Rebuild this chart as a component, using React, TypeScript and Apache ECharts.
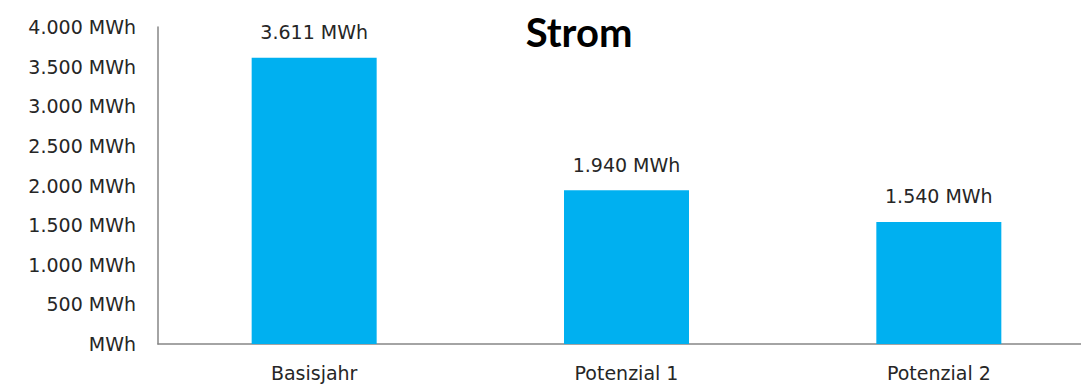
import React, { useEffect, useRef } from "react";
import * as echarts from "echarts";

const categories = ["Basisjahr", "Potenzial 1", "Potenzial 2"];
const values = [3611, 1940, 1540];
const yTicks = [0, 500, 1000, 1500, 2000, 2500, 3000, 3500, 4000];

const fmt = (v: number) => {
  if (v === 0) return "MWh";
  return v.toString().replace(/\B(?=(\d{3})+(?!\d))/g, ".") + " MWh";
};

export default function App() {
  const ref = useRef<HTMLDivElement>(null);
  useEffect(() => {
    if (!ref.current) return;
    const chart = echarts.init(ref.current, null, { renderer: "svg" });
    const font = "'DejaVu Sans', sans-serif";
    chart.setOption({
      animation: false,
      title: {
        text: "Strom",
        left: 574,
        top: 7,
        textAlign: "center",
        textStyle: { fontSize: 40, fontWeight: "bold", color: "#000", fontFamily: "Lato, sans-serif" },
      },
      grid: { left: 158, right: 0, top: 27, bottom: 41, containLabel: false },
      xAxis: {
        type: "category",
        data: categories,
        axisLine: { lineStyle: { color: "#868686", width: 1.5 } },
        axisTick: { show: false },
        axisLabel: { color: "#262626", fontSize: 19, margin: 19, fontFamily: font },
      },
      yAxis: {
        type: "value",
        min: yTicks[0],
        max: yTicks[yTicks.length - 1],
        interval: 500,
        axisLine: { show: true, lineStyle: { color: "#868686", width: 1.5 } },
        axisTick: { show: false },
        splitLine: { show: false },
        axisLabel: { color: "#262626", fontSize: 19, margin: 22, fontFamily: font, formatter: fmt },
      },
      series: [
        {
          type: "bar",
          data: values,
          barWidth: 125,
          itemStyle: { color: "#00B0F0" },
          label: {
            show: true,
            position: "top",
            distance: 16,
            color: "#262626",
            fontSize: 19,
            fontFamily: font,
            formatter: (p: any) => fmt(p.value),
          },
        },
      ],
    });
    return () => chart.dispose();
  }, []);
  return (
    <div style={{ position: "absolute", left: 0, top: 0, width: 1081, height: 385, overflow: "hidden", background: "#fff" }}>
      <div ref={ref} style={{ width: 1095, height: 385 }} />
    </div>
  );
}
